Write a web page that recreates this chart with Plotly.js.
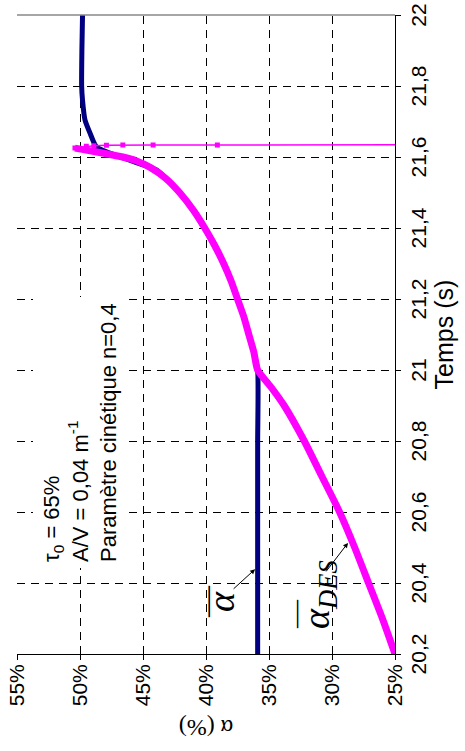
<!DOCTYPE html>
<html>
<head>
<meta charset="utf-8">
<script src="https://cdn.plot.ly/plotly-3.0.1.min.js"></script>
<style>
  html, body { margin: 0; padding: 0; background: #fff; overflow: hidden; width: 465px; height: 751px; }
  #plot { position: absolute; left: 0; top: 0; width: 751px; height: 465px;
          transform-origin: 0 0; transform: translate(0px, 751px) rotate(-90deg); }
</style>
</head>
<body>
<div id="plot"></div>
<script>
// Time ticks (s) and alpha ticks (%)
const timeTicks = [20.2, 20.4, 20.6, 20.8, 21.0, 21.2, 21.4, 21.6, 21.8, 22.0];
const timeTickText = ['20,2', '20,4', '20,6', '20,8', '21', '21,2', '21,4', '21,6', '21,8', '22'];
const alphaTicks = [25, 30, 35, 40, 45, 50, 55];
const alphaTickText = ['25%', '30%', '35%', '40%', '45%', '50%', '55%'];

// Series "alpha bar" (dark blue)
const tBar = [20.2, 20.4, 20.6, 20.8, 21.0, 21.05, 21.1, 21.15, 21.2, 21.25, 21.3, 21.35, 21.4, 21.45, 21.5, 21.54, 21.563, 21.6, 21.629, 21.667, 21.704, 21.76, 21.8, 21.9, 22.0];
const aBar = [35.9, 35.9, 35.9, 35.9, 35.9, 36.2, 36.6, 37.0, 37.5, 38.0, 38.6, 39.3, 40.1, 41.0, 42.1, 43.2, 43.9, 46.8, 48.7, 49.2, 49.6, 49.8, 49.87, 49.85, 49.8];

// Series "alpha DES" (magenta) - main curve
const tDes = [20.2, 20.3, 20.4, 20.5, 20.6, 20.7, 20.8, 20.9, 20.95, 21.0, 21.05, 21.1, 21.15, 21.2, 21.25, 21.3, 21.35, 21.4, 21.45, 21.5, 21.54, 21.57, 21.59, 21.6, 21.61, 21.62, 21.625];
const aDes = [25.0, 26.0, 27.1, 28.2, 29.4, 30.8, 32.2, 33.8, 34.8, 35.9, 36.2, 36.6, 37.0, 37.5, 38.0, 38.6, 39.3, 40.1, 41.0, 42.1, 43.2, 44.4, 45.6, 46.6, 48.0, 49.6, 50.4];
// Series "alpha DES" - sparse tail after the peak
const tDesTail = [21.625, 21.63, 21.632, 21.633, 21.634, 21.634, 21.634, 21.635];
const aDesTail = [50.4, 49.5, 48.9, 47.9, 46.6, 44.2, 39.1, 15.0];

// Text box lines
const infoLines = ['τ<sub>0</sub> = 65%', 'A/V = 0,04 m<sup>-1</sup>', 'Paramètre cinétique n=0,4'];

const gridStyle = { showgrid: true, gridcolor: '#000', gridwidth: 1, griddash: '8px,6px', zeroline: false,
  showline: true, linecolor: '#000', linewidth: 1, ticks: 'outside', ticklen: 5, tickcolor: '#000', tickwidth: 1 };

const serif = 'Liberation Serif, Times New Roman, serif';

const traces = [
  { x: tBar, y: aBar, type: 'scatter', mode: 'lines', line: { color: '#000080', width: 5, shape: 'spline', smoothing: 0.6 }, hoverinfo: 'skip' },
  { x: tDes, y: aDes, type: 'scatter', mode: 'lines', line: { color: '#FF00FF', width: 7, shape: 'spline', smoothing: 0.6 }, hoverinfo: 'skip' },
  { x: tDesTail, y: aDesTail, type: 'scatter', mode: 'lines+markers', line: { color: '#FF00FF', width: 1.5 },
    marker: { symbol: 'square', size: 5, color: '#FF00FF' }, hoverinfo: 'skip' }
];

const layout = {
  width: 751, height: 465,
  margin: { l: 97, r: 15, t: 17, b: 70 },
  paper_bgcolor: '#fff', plot_bgcolor: '#fff',
  showlegend: false,
  font: { family: 'Liberation Sans, Arial, sans-serif', size: 21, color: '#000' },
  xaxis: Object.assign({}, gridStyle, {
    range: [20.2, 22], tickmode: 'array', tickvals: timeTicks, ticktext: timeTickText,
    tickfont: { size: 21 },
    title: { text: 'Temps (s)', font: { size: 25 }, standoff: 4 }
  }),
  yaxis: Object.assign({}, gridStyle, {
    range: [25, 55], tickmode: 'array', tickvals: alphaTicks, ticktext: alphaTickText,
    tickfont: { size: 21 },
    title: { text: 'α (%)', font: { family: serif, size: 24 }, standoff: 6 }
  }),
  shapes: [
    { type: 'line', xref: 'paper', yref: 'paper', x0: 1, x1: 1, y0: 0, y1: 1, line: { color: '#888', width: 1.5 } }
  ],
  annotations: [
    { xref: 'paper', yref: 'paper', x: 0.1346, y: 0.709, xanchor: 'left', yanchor: 'bottom', showarrow: false,
      align: 'left', bgcolor: '#fff', borderpad: 6, borderwidth: 0,
      text: infoLines.join('<br>'), font: { size: 22 } },
    // arrows
    { x: 20.439, y: 36.1, ax: -21, ay: -23, showarrow: true, arrowhead: 2, arrowsize: 1, arrowwidth: 1, arrowcolor: '#000', text: '' },
    { x: 20.513, y: 28.73, ax: -30, ay: -23, showarrow: true, arrowhead: 2, arrowsize: 1, arrowwidth: 1, arrowcolor: '#000', text: '' },
    // labels: alpha bar
    { x: 20.349, y: 38.8, showarrow: false, xanchor: 'center', yanchor: 'middle',
      text: '<i>α</i>', font: { family: serif, size: 38 } },
    { x: 20.349, y: 40.0, showarrow: false, xanchor: 'center', yanchor: 'middle',
      text: '—', font: { family: serif, size: 31 } },
    // labels: alpha bar DES
    { x: 20.369, y: 31.03, showarrow: false, xanchor: 'center', yanchor: 'middle',
      text: '<i>α<sub>DES</sub></i>', font: { family: serif, size: 38 } },
    { x: 20.313, y: 32.98, showarrow: false, xanchor: 'center', yanchor: 'middle',
      text: '—', font: { family: serif, size: 28 } }
  ]
};

Plotly.newPlot('plot', traces, layout, { staticPlot: true, displayModeBar: false });
</script>
</body>
</html>
